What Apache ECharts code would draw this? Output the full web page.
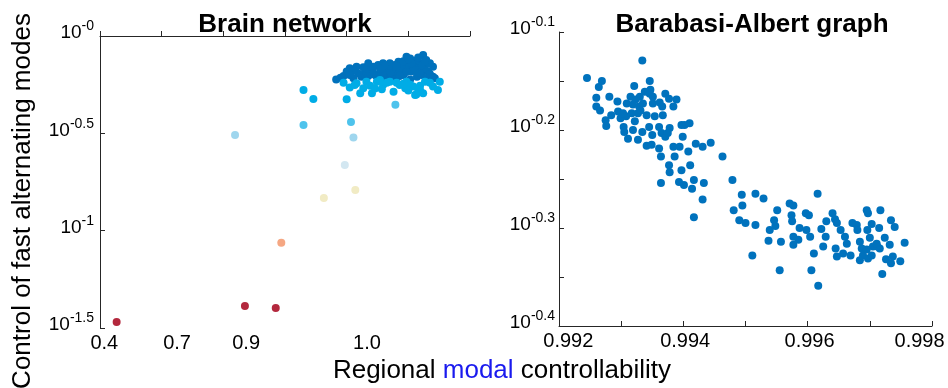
<!DOCTYPE html>
<html>
<head>
<meta charset="utf-8">
<script src="https://cdn.jsdelivr.net/npm/echarts@6/dist/echarts.min.js"></script>
<style>
  html, body { margin: 0; padding: 0; background: #fff; }
  #main { width: 948px; height: 388px; }
</style>
</head>
<body>
<div id="main"></div>
<script>
// left panel: x in tick units (ticks 0..6), y = log10 of control
var brainTickPos = [0, 1, 2, 3, 4, 5, 6];
var brainLabelPos = [0.07, 1.25, 2.37, 4.33];
var brainLabels = ['0.4', '0.7', '0.9', '1.0'];

var brainDeep = [
    [3.83, -0.223], [3.95, -0.205], [4.05, -0.166], [4.16, -0.158], [4.11, -0.217],
    [4.24, -0.209], [4.35, -0.140], [4.38, -0.175], [4.46, -0.200], [4.51, -0.149],
    [4.59, -0.140], [4.62, -0.183], [4.68, -0.166], [4.73, -0.200], [4.78, -0.149],
    [4.84, -0.132], [4.86, -0.175], [4.92, -0.200], [4.97, -0.106], [5.00, -0.149],
    [5.05, -0.183], [5.11, -0.132], [5.16, -0.166], [5.22, -0.200], [5.24, -0.098],
    [5.29, -0.123], [5.32, -0.183], [5.40, -0.158], [5.43, -0.217], [4.65, -0.209],
    [4.54, -0.226], [4.81, -0.217], [5.03, -0.223], [5.14, -0.209], [4.43, -0.158],
    [4.76, -0.183], [4.95, -0.158], [5.08, -0.158], [5.19, -0.140], [4.84, -0.192],
    [4.57, -0.183], [4.49, -0.209], [5.27, -0.166], [5.35, -0.140], [4.30, -0.183],
    [4.19, -0.192], [4.00, -0.183], [4.89, -0.140], [4.70, -0.140], [5.14, -0.123],
    [5.03, -0.115], [5.40, -0.209], [5.30, -0.217], [4.62, -0.150], [4.73, -0.170],
    [4.89, -0.165], [4.97, -0.185], [5.05, -0.140], [5.11, -0.175], [5.19, -0.190],
    [5.22, -0.150], [4.81, -0.155], [4.92, -0.130], [5.00, -0.120], [4.70, -0.190],
    [4.43, -0.190], [4.27, -0.160], [4.59, -0.200], [5.35, -0.195], [5.16, -0.110],
    [4.86, -0.205], [4.54, -0.170], [5.27, -0.130], [4.35, -0.205], [4.11, -0.180],
    [3.90, -0.215], [4.05, -0.200]
];
var brainCyan = [
    [4.22, -0.294], [4.41, -0.294], [4.00, -0.325], [3.30, -0.277], [3.46, -0.324],
    [4.76, -0.286], [5.48, -0.277], [5.51, -0.235], [4.13, -0.252], [4.32, -0.235],
    [4.49, -0.235], [4.59, -0.252], [4.70, -0.235], [4.95, -0.269], [4.97, -0.235],
    [5.08, -0.260], [5.13, -0.300], [5.16, -0.277], [5.24, -0.294], [5.27, -0.235],
    [4.86, -0.252], [4.57, -0.274], [4.27, -0.269], [4.16, -0.243], [4.54, -0.226],
    [5.19, -0.277], [5.11, -0.303], [5.03, -0.250], [4.38, -0.255], [4.65, -0.240],
    [4.92, -0.245], [5.00, -0.280], [5.19, -0.255], [5.35, -0.240], [4.46, -0.270],
    [4.81, -0.240], [5.40, -0.260], [4.05, -0.265], [3.95, -0.240]
];
var brainSky = [[4.79, -0.353], [3.30, -0.457], [4.07, -0.442]];
var brainLight = [[2.19, -0.508], [4.11, -0.521]];
var brainPale = [[3.97, -0.663]];
var brainCream = [[3.63, -0.832], [4.14, -0.791]];
var brainPeach = [[2.94, -1.062]];
var brainRed = [[0.27, -1.469], [2.35, -1.387], [2.85, -1.397]];

// right panel: x = modal controllability, y = log10 of control
var baLabelPos = [0.99215, 0.99403, 0.99603, 0.9978];
var baPoints = [
    [0.99245, -0.147], [0.99264, -0.156], [0.99269, -0.150], [0.99260, -0.167], [0.99281, -0.166],
    [0.99260, -0.176], [0.99266, -0.180], [0.99275, -0.190], [0.99276, -0.196], [0.99284, -0.185],
    [0.99294, -0.171], [0.99295, -0.181], [0.99299, -0.188], [0.99304, -0.197], [0.99305, -0.202],
    [0.99311, -0.209], [0.99309, -0.173], [0.99315, -0.166], [0.99321, -0.155], [0.99317, -0.183],
    [0.99319, -0.200], [0.99327, -0.210], [0.99334, -0.129], [0.99330, -0.166], [0.99329, -0.176],
    [0.99335, -0.173], [0.99327, -0.183], [0.99334, -0.202], [0.99341, -0.216], [0.99346, -0.150],
    [0.99347, -0.159], [0.99351, -0.173], [0.99346, -0.163], [0.99341, -0.185], [0.99345, -0.197],
    [0.99350, -0.205], [0.99349, -0.215], [0.99354, -0.186], [0.99362, -0.172], [0.99371, -0.163],
    [0.99366, -0.176], [0.99367, -0.185], [0.99361, -0.197], [0.99365, -0.203], [0.99371, -0.207],
    [0.99361, -0.219], [0.99364, -0.227], [0.99377, -0.168], [0.99384, -0.176], [0.99389, -0.169],
    [0.99378, -0.198], [0.99375, -0.203], [0.99384, -0.217], [0.99386, -0.227], [0.99377, -0.236],
    [0.99378, -0.243], [0.99364, -0.254], [0.99393, -0.253], [0.99397, -0.241], [0.99401, -0.256],
    [0.99394, -0.217], [0.99399, -0.207], [0.99397, -0.195], [0.99402, -0.195], [0.99410, -0.193],
    [0.99408, -0.222], [0.99411, -0.236], [0.99414, -0.260], [0.99417, -0.251], [0.99420, -0.214],
    [0.99431, -0.271], [0.99417, -0.289], [0.99433, -0.254], [0.99431, -0.217], [0.99444, -0.213],
    [0.99463, -0.227], [0.99479, -0.251], [0.99481, -0.282], [0.99494, -0.266], [0.99495, -0.277],
    [0.99490, -0.292], [0.99500, -0.295], [0.99516, -0.265], [0.99529, -0.270], [0.99516, -0.297],
    [0.99511, -0.328], [0.99551, -0.282], [0.99546, -0.292], [0.99548, -0.298], [0.99539, -0.302],
    [0.99537, -0.313], [0.99555, -0.343], [0.99557, -0.314], [0.99571, -0.275], [0.99577, -0.277],
    [0.99574, -0.287], [0.99575, -0.293], [0.99577, -0.309], [0.99585, -0.312], [0.99577, -0.317],
    [0.99587, -0.300], [0.99597, -0.285], [0.99602, -0.287], [0.99598, -0.302], [0.99604, -0.309],
    [0.99610, -0.326], [0.99606, -0.343], [0.99617, -0.359], [0.99616, -0.265], [0.99622, -0.301],
    [0.99625, -0.319], [0.99630, -0.293], [0.99629, -0.309], [0.99640, -0.285], [0.99644, -0.291],
    [0.99647, -0.295], [0.99645, -0.321], [0.99647, -0.329], [0.99653, -0.302], [0.99657, -0.326],
    [0.99660, -0.309], [0.99663, -0.316], [0.99669, -0.328], [0.99672, -0.295], [0.99679, -0.297],
    [0.99680, -0.302], [0.99684, -0.314], [0.99684, -0.333], [0.99687, -0.321], [0.99689, -0.328],
    [0.99695, -0.282], [0.99697, -0.285], [0.99696, -0.302], [0.99700, -0.310], [0.99703, -0.296],
    [0.99705, -0.319], [0.99697, -0.331], [0.99695, -0.322], [0.99703, -0.328], [0.99715, -0.300],
    [0.99712, -0.319], [0.99717, -0.282], [0.99724, -0.310], [0.99732, -0.317], [0.99726, -0.332],
    [0.99734, -0.336], [0.99720, -0.347], [0.99737, -0.329], [0.99749, -0.334], [0.99756, -0.315],
    [0.99734, -0.292], [0.99740, -0.299], [0.99716, -0.321], [0.99711, -0.316], [0.99308, -0.186],
    [0.99323, -0.169], [0.99331, -0.180], [0.99322, -0.191], [0.99303, -0.183], [0.99351, -0.166],
    [0.99338, -0.161], [0.99319, -0.174]
];

var FONT = 'Liberation Sans, Arial, sans-serif';
var chart = echarts.init(document.getElementById('main'));

// "10" with a raised exponent
var powRich = {
    b: { fontSize: 19, lineHeight: 20, color: '#000', fontFamily: FONT, verticalAlign: 'bottom' },
    s: { fontSize: 14, lineHeight: 14, color: '#000', fontFamily: FONT, verticalAlign: 'bottom', padding: [0, 0, 9, 0] }
};

function powLabel(v) {
    var e = Math.round(v * 100) / 100;
    var s = e === 0 ? '-0' : String(e);
    return '{b|10}{s|' + s + '}';
}

function axisBase() {
    return {
        axisLine: { show: true, lineStyle: { color: '#262626', width: 1 } },
        axisTick: { show: true, inside: true, length: 5, lineStyle: { color: '#262626' } },
        splitLine: { show: false }
    };
}

var scatterStyle = function (name, data, color, xi) {
    return {
        name: name,
        type: 'scatter',
        xAxisIndex: xi,
        yAxisIndex: xi,
        data: data,
        symbolSize: 8,
        itemStyle: { color: color, opacity: 1 },
        silent: true,
        animation: false
    };
};

var option = {
    backgroundColor: '#fff',
    animation: false,
    grid: [
        { left: 100, top: 36, width: 370, height: 292 },
        { left: 559, top: 32, width: 373, height: 294 }
    ],
    xAxis: [
        echarts.util.merge(axisBase(), {
            type: 'value', gridIndex: 0, min: 0, max: 6, interval: 1,
            axisTick: { inside: true, customValues: brainTickPos },
            axisLabel: {
                customValues: brainLabelPos,
                margin: 5, fontSize: 20, color: '#000', fontFamily: FONT,
                formatter: function (v) {
                    var best = 0;
                    for (var i = 1; i < brainLabelPos.length; i++) {
                        if (Math.abs(brainLabelPos[i] - v) < Math.abs(brainLabelPos[best] - v)) best = i;
                    }
                    return brainLabels[best];
                }
            }
        }, true),
        echarts.util.merge(axisBase(), {
            type: 'value', gridIndex: 1, min: 0.992, max: 0.998, interval: 0.001,
            axisTick: { inside: true },
            axisLabel: {
                customValues: baLabelPos,
                margin: 5, fontSize: 20, color: '#000', fontFamily: FONT,
                formatter: function (v) { return v.toFixed(3); }
            }
        }, true)
    ],
    yAxis: [
        echarts.util.merge(axisBase(), {
            type: 'value', gridIndex: 0, min: -1.5, max: 0, interval: 0.5,
            axisTick: { inside: true },
            axisLabel: { margin: 6, padding: [0, 0, 7, 0], rich: powRich, formatter: powLabel }
        }, true),
        echarts.util.merge(axisBase(), {
            type: 'value', gridIndex: 1, min: -0.4, max: -0.1, interval: 0.05,
            axisTick: { inside: true },
            axisLabel: {
                margin: 4, padding: [0, 0, 7, 0], rich: powRich,
                formatter: function (v) {
                    if (Math.abs(v * 10 - Math.round(v * 10)) > 1e-6) return '';
                    return powLabel(v);
                }
            }
        }, true)
    ],
    series: [
        scatterStyle('deep', brainDeep, '#0071bc', 0),
        scatterStyle('cyan', brainCyan, '#00ace6', 0),
        scatterStyle('sky', brainSky, '#4ec3ec', 0),
        scatterStyle('light', brainLight, '#9fd6ee', 0),
        scatterStyle('pale', brainPale, '#d3e7f1', 0),
        scatterStyle('cream', brainCream, '#f1ebc4', 0),
        scatterStyle('peach', brainPeach, '#f5a783', 0),
        scatterStyle('red', brainRed, '#b3283d', 0),
        scatterStyle('ba', baPoints, '#0072bd', 1)
    ],
    graphic: [
        {
            type: 'text', x: 285, y: 25,
            style: {
                text: 'Brain network', fill: '#000', fontSize: 26, fontWeight: 'bold', fontFamily: FONT,
                align: 'center', verticalAlign: 'middle', textAlign: 'center', textVerticalAlign: 'middle'
            }
        },
        {
            type: 'text', x: 752, y: 25,
            style: {
                text: 'Barabasi-Albert graph', fill: '#000', fontSize: 26, fontWeight: 'bold', fontFamily: FONT,
                align: 'center', verticalAlign: 'middle', textAlign: 'center', textVerticalAlign: 'middle'
            }
        },
        {
            type: 'text', x: 23, y: 201, rotation: Math.PI / 2,
            style: {
                text: 'Control of fast alternating modes', fill: '#000', fontSize: 26, fontFamily: FONT,
                align: 'center', verticalAlign: 'middle', textAlign: 'center', textVerticalAlign: 'middle'
            }
        },
        {
            type: 'text', x: 502, y: 371,
            style: {
                text: '{a|Regional }{m|modal}{a| controllability}',
                rich: {
                    a: { fontSize: 26, fill: '#000', color: '#000', fontFamily: FONT },
                    m: { fontSize: 26, fill: '#1a1aee', color: '#1a1aee', fontFamily: FONT }
                },
                align: 'center', verticalAlign: 'middle', textAlign: 'center', textVerticalAlign: 'middle'
            }
        }
    ]
};

chart.setOption(option);
</script>
</body>
</html>
